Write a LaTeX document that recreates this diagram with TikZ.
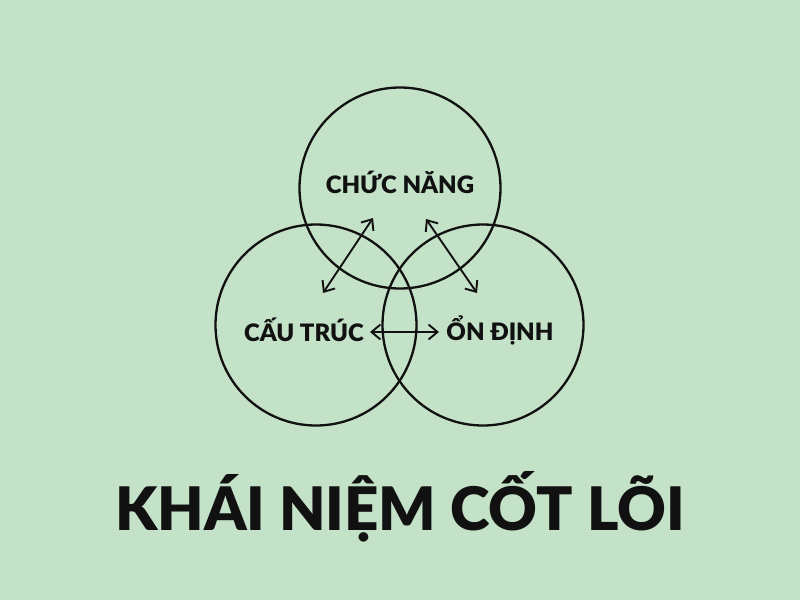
\documentclass[tikz,border=0pt]{standalone}
\usepackage{fontspec}
\setmainfont{Lato}[BoldFont={Lato Black}]
\usetikzlibrary{arrows.meta}
\definecolor{bg}{HTML}{C3E2C7}
\definecolor{ink}{HTML}{111111}
\tikzset{
  ring/.style={circle, draw=ink, line width=2.3pt, minimum size=201pt, inner sep=0pt},
  lbl/.style={text=ink, font=\fontsize{24}{26}\selectfont\bfseries, inner sep=0pt},
  link/.style={draw=ink, line width=1.9pt, {Straight Barb[length=9pt,width=15pt,line width=1.9pt]}-{Straight Barb[length=9pt,width=15pt,line width=1.9pt]}},
  heading/.style={text=ink, font=\fontsize{60}{66}\selectfont\bfseries, inner sep=0pt}
}
\begin{document}
\begin{tikzpicture}[x=1pt,y=-1pt]
\fill[bg] (0,0) rectangle (800,600);
\useasboundingbox (0,0) rectangle (800,600);
\node[ring] (top) at (400,188) {};
\node[ring] (left) at (316,325) {};
\node[ring] (right) at (483,325) {};
\node[lbl] (chuc) at (400,182) {CHỨC NĂNG};
\node[lbl] (cau) at (304,330) {CẤU TRÚC};
\node[lbl] (on) at (500,330) {ỔN ĐỊNH};
\coordinate (a1) at (373,218);
\coordinate (a2) at (323,293);
\coordinate (b1) at (426,219);
\coordinate (b2) at (477,293);
\coordinate (c1) at (370,332);
\coordinate (c2) at (439,332);
\draw[link] (a1) -- (a2);
\draw[link] (b1) -- (b2);
\draw[link] (c1) -- (c2);
\node[heading] (title) at (400,507) {KHÁI NIỆM CỐT LÕI};
\end{tikzpicture}
\end{document}
